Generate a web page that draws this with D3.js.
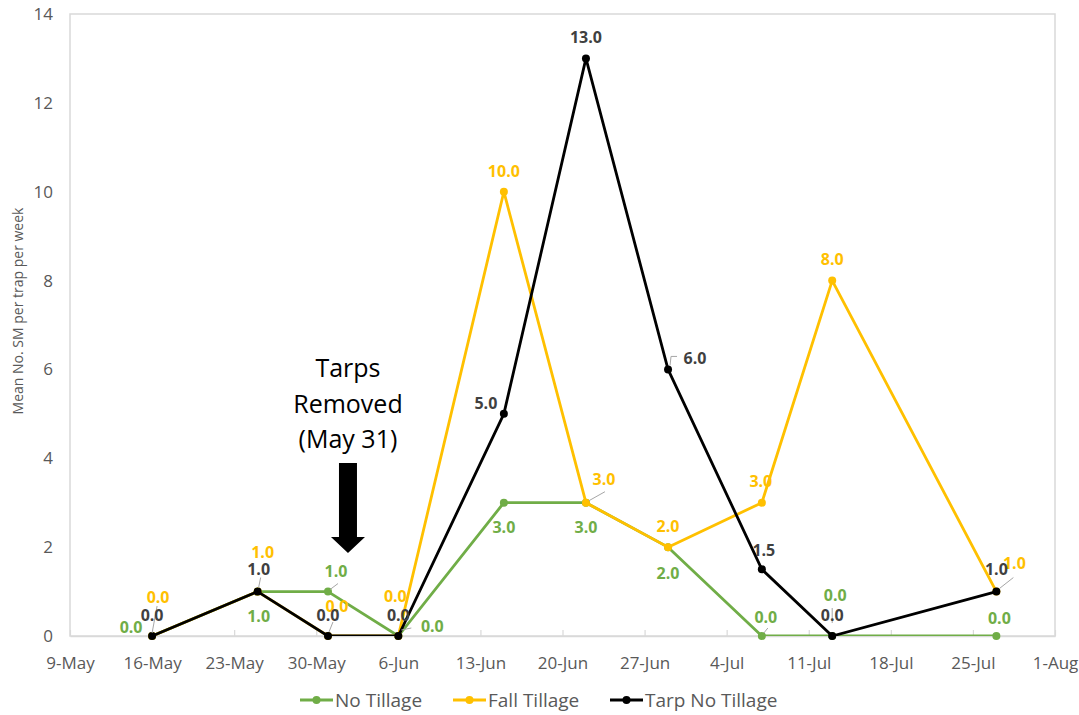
<!DOCTYPE html>
<html>
<head>
<meta charset="utf-8">
<script src="https://cdn.jsdelivr.net/npm/d3@7"></script>
<style>
  body { margin: 0; background: #fff; }
  #svg-container { width: 1079px; height: 715px; }
  text { font-family: "Open Sans", "Noto Sans", sans-serif; }
</style>
</head>
<body>
<div id="svg-container"></div>
<script>
// sample dates (weekly trap checks)
var dates = ["2019-05-16", "2019-05-25", "2019-05-31", "2019-06-06", "2019-06-15",
             "2019-06-22", "2019-06-29", "2019-07-07", "2019-07-13", "2019-07-27"];

var noTillage   = [0, 1, 1, 0, 3, 3, 2, 0, 0, 0];
var fallTillage = [0, 1, 0, 0, 10, 3, 2, 3, 8, 1];
var tarpNoTill  = [0, 1, 0, 0, 5, 13, 6, 1.5, 0, 1];

var seriesNames = ["No Tillage", "Fall Tillage", "Tarp No Tillage"];
var yTicks = [0, 2, 4, 6, 8, 10, 12, 14];
var xTickDates = ["2019-05-09", "2019-05-16", "2019-05-23", "2019-05-30", "2019-06-06",
                  "2019-06-13", "2019-06-20", "2019-06-27", "2019-07-04", "2019-07-11",
                  "2019-07-18", "2019-07-25", "2019-08-01"];

// label placement (pixel offsets from each point), kept apart from the data
var labelOffsets = [
  [[-21, -9], [1, 25], [8, -20], [34, -10], [0, 25], [0, 25], [0, 26], [4, -19], [3, -41], [3, -18]],
  [[6, -39], [5, -39], [9, -30], [-3, -40], [0, -20], [18, -23], [0, -21], [-1, -21], [0, -21], [18, -28]],
  [[0, -21], [1, -22], [0, -21], [0, -21], [-18, -10], [0, -21], [27, -11], [2, -19], [0, -21], [0, -22]]
];
var colors = ["#70AD47", "#FFC000", "#000000"];
var labelColors = ["#70AD47", "#FFC000", "#404040"];

var width = 1079, height = 715;
var margin = { top: 14, right: 24, bottom: 79, left: 70 };
var innerW = width - margin.left - margin.right;
var innerH = height - margin.top - margin.bottom;

var parse = d3.timeParse("%Y-%m-%d");
var dateObjs = dates.map(parse);

var svg = d3.select("#svg-container")
            .append("svg")
            .attr("width", width)
            .attr("height", height);

var g = svg.append("g")
           .attr("transform", "translate(" + margin.left + "," + margin.top + ")");

var scaleX = d3.scaleTime()
               .domain([parse("2019-05-09"), parse("2019-08-01")])
               .range([0, innerW]);

var scaleY = d3.scaleLinear()
               .domain([0, 14])
               .range([innerH, 0]);

g.append("clipPath").attr("id", "plot-clip")
  .append("rect").attr("width", innerW).attr("height", innerH);

// plot frame
g.append("rect")
  .attr("width", innerW).attr("height", innerH)
  .attr("fill", "none").attr("stroke", "#d9d9d9").attr("stroke-width", 1.5);

// x axis
var xAxis = g.append("g")
  .attr("transform", "translate(0," + innerH + ")")
  .call(d3.axisBottom(scaleX).tickValues(xTickDates.map(parse))
          .tickFormat(d3.timeFormat("%-d-%b"))
          .tickSizeInner(-6).tickSizeOuter(0));
xAxis.select(".domain").attr("stroke", "#d9d9d9").attr("stroke-width", 1.5);
xAxis.selectAll(".tick line").attr("stroke", "#d9d9d9").attr("stroke-width", 1.2);
xAxis.selectAll(".tick text")
  .attr("y", 27).attr("dy", "0.35em")
  .attr("fill", "#595959").style("font-size", "17px");

// y axis
var yAxis = g.append("g")
  .call(d3.axisLeft(scaleY).tickValues(yTicks).tickSize(0).tickPadding(17));
yAxis.select(".domain").remove();
yAxis.selectAll(".tick text").attr("fill", "#595959").style("font-size", "17px");

svg.append("text")
  .attr("transform", "translate(18," + (margin.top + 297) + ") rotate(-90)")
  .attr("text-anchor", "middle").attr("dy", "0.35em")
  .attr("fill", "#595959").style("font-size", "14px")
  .text("Mean No. SM per trap per week");

var line = d3.line()
  .x(function(d) { return scaleX(d.date); })
  .y(function(d) { return scaleY(d.value); });

var allSeries = [noTillage, fallTillage, tarpNoTill].map(function(vals, s) {
  return vals.map(function(v, i) {
    return { date: dateObjs[i], value: v, off: labelOffsets[s][i] };
  });
});

allSeries.forEach(function(data, s) {
  g.append("path")
    .datum(data)
    .attr("clip-path", "url(#plot-clip)")
    .attr("fill", "none")
    .attr("stroke", colors[s])
    .attr("stroke-width", 2.8)
    .attr("stroke-linejoin", "round")
    .attr("d", line);

  g.selectAll(".pt" + s)
    .data(data)
    .enter().append("circle")
    .attr("cx", function(d) { return scaleX(d.date); })
    .attr("cy", function(d) { return scaleY(d.value); })
    .attr("r", 4)
    .attr("fill", colors[s]);
});

// leader lines for labels pushed away from their point
var leaders = [
  [1, 0, [[0, -3], [5, -30]]],
  [2, 1, [[1, -4], [3, -14]]],
  [0, 2, [[2, -2], [10, -8]]],
  [2, 2, [[1, -4], [5, -14]]],
  [0, 3, [[3, -6], [13, -8]]],
  [1, 5, [[3, -2], [19, -11]]],
  [2, 6, [[2, -4], [3, -13], [9, -13]]],
  [0, 7, [[2, -3], [6, -8]]],
  [2, 8, [[0, -13], [0, -28]]],
  [1, 9, [[3, -3], [17, -14]]]
];
leaders.forEach(function(l) {
  var d = allSeries[l[0]][l[1]];
  var px = scaleX(d.date), py = scaleY(d.value);
  g.append("path")
    .attr("fill", "none").attr("stroke", "#a6a6a6").attr("stroke-width", 1)
    .attr("d", d3.line()(l[2].map(function(p) { return [px + p[0], py + p[1]]; })));
});

allSeries.forEach(function(data, s) {
  g.selectAll(".lbl" + s)
    .data(data)
    .enter().append("text")
    .attr("x", function(d) { return scaleX(d.date) + d.off[0]; })
    .attr("y", function(d) { return scaleY(d.value) + d.off[1]; })
    .attr("dy", "0.35em")
    .attr("text-anchor", "middle")
    .attr("fill", labelColors[s])
    .style("font-size", "16px").style("font-weight", "bold")
    .text(function(d) { return d.value.toFixed(1); });
});

// annotation
var annX = scaleX(parse("2019-05-31")) + 20;
var ann = g.append("text")
  .attr("text-anchor", "middle").attr("fill", "#000")
  .style("font-size", "25px");
["Tarps", "Removed", "(May 31)"].forEach(function(t, i) {
  ann.append("tspan").attr("x", annX).attr("y", 355 - margin.top + 22 + i * 35.5).text(t);
});
var arrowTop = 463 - margin.top, arrowTip = 553 - margin.top;
g.append("path")
  .attr("fill", "#000")
  .attr("d", "M" + (annX - 9) + "," + arrowTop +
             "H" + (annX + 9) + "V" + (arrowTip - 16) +
             "H" + (annX + 17) + "L" + annX + "," + arrowTip +
             "L" + (annX - 17) + "," + (arrowTip - 16) +
             "H" + (annX - 9) + "Z");

// legend
var legendX = [300, 453, 610];
var legend = svg.append("g").attr("transform", "translate(0,700)");
seriesNames.forEach(function(name, s) {
  var lg = legend.append("g").attr("transform", "translate(" + legendX[s] + ",0)");
  lg.append("line").attr("x1", 0).attr("x2", 33)
    .attr("stroke", colors[s]).attr("stroke-width", 2.8);
  lg.append("circle").attr("cx", 16.5).attr("r", 4).attr("fill", colors[s]);
  lg.append("text").attr("x", 35).attr("dy", "0.35em")
    .attr("fill", "#595959").style("font-size", "19px").text(name);
});
</script>
</body>
</html>
